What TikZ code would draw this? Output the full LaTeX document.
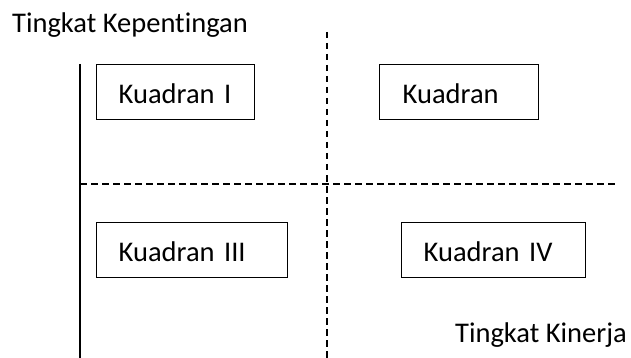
\documentclass[tikz,border=0pt]{standalone}
\usepackage{fontspec}
\setmainfont[Ligatures=NoCommon]{Carlito}
\begin{document}
\begin{tikzpicture}[x=1pt,y=-1pt,
  every node/.style={font=\fontsize{28.5}{34}\selectfont},
  qbox/.style={draw=black, line width=1.4pt, anchor=north west, align=left,
    inner xsep=0pt, inner ysep=0pt, minimum height=55pt,
    text height=39pt, text depth=16pt},
  lbl/.style={inner sep=0pt, anchor=base west},
  axis/.style={line width=2pt},
  grid/.style={line width=1.3pt, dash pattern=on 6.5pt off 4.5pt}]
\useasboundingbox (0,0) rectangle (631,358);
% axes and dividers
\coordinate (ytop) at (80,64);
\coordinate (ybot) at (80,358);
\coordinate (vtop) at (327,32);
\coordinate (vbot) at (327,358);
\coordinate (hl) at (80,184);
\coordinate (hr) at (618,184);
\draw[axis] (ytop) -- (ybot);
\draw[grid] (vtop) -- (vbot);
\draw[grid] (hl) -- (hr);
% quadrant boxes
\node[qbox, text width=158pt] (q1) at (96,64) {\hspace*{22pt}Kuadran I};
\node[qbox, text width=159pt] (q2) at (379,64) {\hspace*{23pt}Kuadran};
\node[qbox, text width=191pt] (q3) at (96,222) {\hspace*{22pt}Kuadran III};
\node[qbox, text width=184pt] (q4) at (401,222) {\hspace*{22pt}Kuadran IV};
% axis labels
\node[lbl] (ylab) at (12,33) {Tingkat Kepentingan};
\node[lbl] (xlab) at (455,342) {Tingkat Kinerja};
\end{tikzpicture}
\end{document}
